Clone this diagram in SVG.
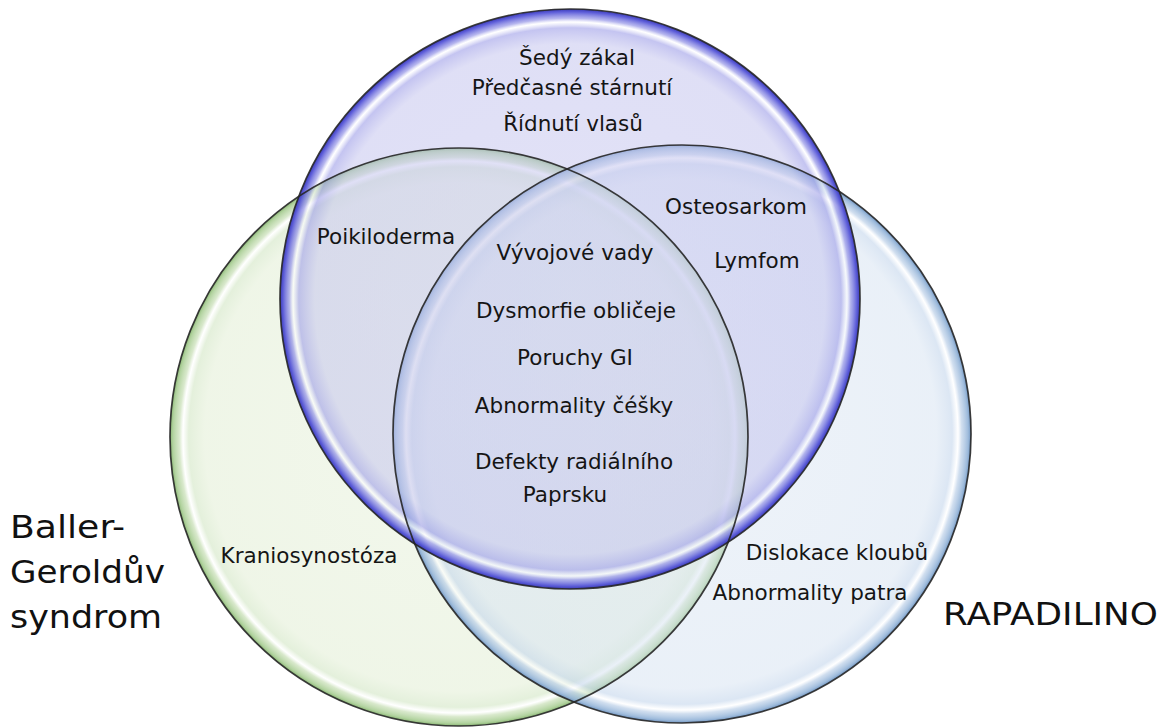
<svg xmlns="http://www.w3.org/2000/svg" width="1168" height="727" viewBox="0 0 1168 727">
<style>
.t{font-family:"DejaVu Sans",Verdana,sans-serif;font-size:21.5px;fill:#151515;text-anchor:middle}
.big{font-family:"DejaVu Sans",Verdana,sans-serif;font-size:32px;fill:#111}
.ol{fill:none;stroke:#262626;stroke-width:1.7;stroke-opacity:0.9}
</style>
<defs>
<radialGradient id="gB">
<stop offset="0" stop-color="#c8c8ef" stop-opacity="0.52"/>
<stop offset="0.88" stop-color="#c4c4ee" stop-opacity="0.54"/>
<stop offset="0.935" stop-color="#a0a0e8" stop-opacity="0.62"/>
<stop offset="0.955" stop-color="#ffffff" stop-opacity="0.55"/>
<stop offset="0.968" stop-color="#9a9ae8" stop-opacity="0.72"/>
<stop offset="0.99" stop-color="#5050d6" stop-opacity="0.92"/>
<stop offset="1" stop-color="#3a3ab4" stop-opacity="1"/>
</radialGradient>
<radialGradient id="gG">
<stop offset="0" stop-color="#e6f0da" stop-opacity="0.5"/>
<stop offset="0.88" stop-color="#e2eed4" stop-opacity="0.55"/>
<stop offset="0.935" stop-color="#d2e6c4" stop-opacity="0.6"/>
<stop offset="0.955" stop-color="#ffffff" stop-opacity="0.6"/>
<stop offset="0.968" stop-color="#c8dfb6" stop-opacity="0.7"/>
<stop offset="0.99" stop-color="#a4cb8e" stop-opacity="0.85"/>
<stop offset="1" stop-color="#88b472" stop-opacity="1"/>
</radialGradient>
<radialGradient id="gR">
<stop offset="0" stop-color="#dde7f3" stop-opacity="0.5"/>
<stop offset="0.88" stop-color="#d8e4f2" stop-opacity="0.55"/>
<stop offset="0.935" stop-color="#c4d6ec" stop-opacity="0.6"/>
<stop offset="0.955" stop-color="#ffffff" stop-opacity="0.6"/>
<stop offset="0.968" stop-color="#bcd0e8" stop-opacity="0.7"/>
<stop offset="0.99" stop-color="#94b4d8" stop-opacity="0.9"/>
<stop offset="1" stop-color="#7094c0" stop-opacity="1"/>
</radialGradient>
</defs>
<rect width="1168" height="727" fill="#ffffff"/>
<g id="sets">
<circle id="green-fill" cx="459" cy="437" r="289" fill="url(#gG)"/>
<circle id="right-fill" cx="682" cy="434" r="289" fill="url(#gR)"/>
<circle id="blue-fill" cx="570" cy="299" r="290" fill="url(#gB)"/>
<circle class="ol" cx="459" cy="437" r="289"/>
<circle class="ol" cx="682" cy="434" r="289"/>
<circle class="ol" cx="570" cy="299" r="290"/>
</g>
<g id="blue-only">
<text class="t" x="577" y="65">Šedý zákal</text>
<text class="t" x="572" y="95">Předčasné stárnutí</text>
<text class="t" x="573" y="131">Řídnutí vlasů</text>
</g>
<g id="blue-green">
<text class="t" x="386" y="244">Poikiloderma</text>
</g>
<g id="blue-right">
<text class="t" x="736" y="214">Osteosarkom</text>
<text class="t" x="757" y="268">Lymfom</text>
</g>
<g id="center">
<text class="t" x="575" y="260">Vývojové vady</text>
<text class="t" x="576" y="318">Dysmorfie obličeje</text>
<text class="t" x="575" y="365">Poruchy GI</text>
<text class="t" x="574" y="413">Abnormality čéšky</text>
<text class="t" x="574" y="469">Defekty radiálního</text>
<text class="t" x="565" y="502">Paprsku</text>
</g>
<g id="green-only">
<text class="t" x="309" y="563">Kraniosynostóza</text>
</g>
<g id="right-only">
<text class="t" x="837" y="560">Dislokace kloubů</text>
<text class="t" x="810" y="600">Abnormality patra</text>
</g>
<g id="labels">
<text class="big" x="10" y="538" textLength="115" lengthAdjust="spacingAndGlyphs">Baller-</text>
<text class="big" x="10" y="583" textLength="155" lengthAdjust="spacingAndGlyphs">Geroldův</text>
<text class="big" x="10" y="628" textLength="152" lengthAdjust="spacingAndGlyphs">syndrom</text>
<text class="big" x="943" y="625" textLength="215" lengthAdjust="spacingAndGlyphs">RAPADILINO</text>
</g>
<g id="connectors"/>
</svg>
